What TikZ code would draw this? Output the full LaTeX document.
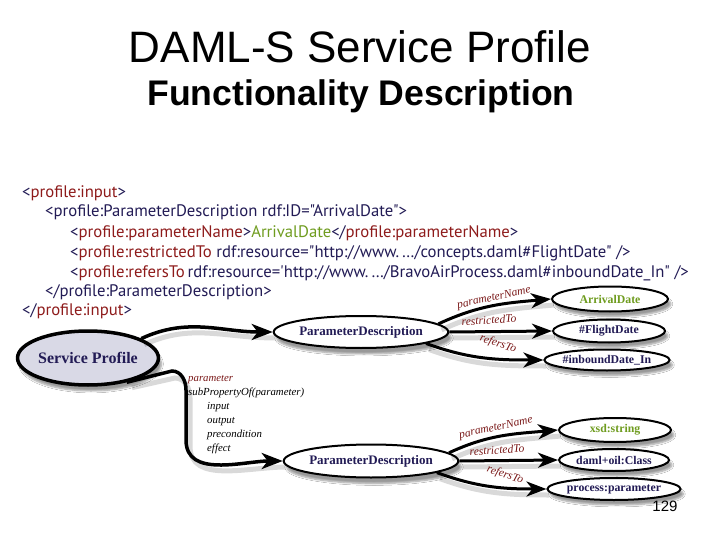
\documentclass[tikz,border=0pt]{standalone}
\usepackage{fontspec}
\setmainfont{Liberation Serif}
\setsansfont{Liberation Sans}
\newfontfamily\xmlfont{PT Sans}
\usetikzlibrary{arrows.meta,shapes.geometric,shadows.blur}
\definecolor{navy}{HTML}{221B55}
\definecolor{tagred}{HTML}{8E1B1B}
\definecolor{lblred}{HTML}{7A1818}
\definecolor{valgreen}{HTML}{6F9C1F}
\definecolor{spfill}{HTML}{D9D9E6}
\tikzset{
  xml/.style={anchor=base west, inner sep=0pt, font=\xmlfont\fontsize{16.7}{16.7}\selectfont, text=navy},
  spnode/.style={ellipse, draw=black, line width=3.5pt, fill=spfill, minimum width=120pt, minimum height=54pt, inner sep=0pt,
    font=\bfseries\fontsize{16}{16}\selectfont, text=navy, blur shadow={shadow xshift=3pt, shadow yshift=-6pt, shadow blur steps=6}},
  pdnode/.style={ellipse, draw=black, line width=2pt, fill=white, minimum width=142pt, minimum height=32pt, inner sep=0pt,
    font=\bfseries\fontsize{13}{13}\selectfont, text=navy, blur shadow={shadow xshift=3pt, shadow yshift=-6pt, shadow blur steps=6}},
  valnode/.style={ellipse, draw=black, line width=2pt, fill=white, minimum width=112pt, minimum height=23pt, inner sep=0pt,
    font=\bfseries\fontsize{11.8}{11.8}\selectfont, text=navy, blur shadow={shadow xshift=3pt, shadow yshift=-5pt, shadow blur steps=6}},
  bigarrow/.style={line width=3.5pt, -{Stealth[length=21pt,width=16pt,inset=6pt]}},
  smallarrow/.style={line width=3pt, -{Stealth[length=20pt,width=15pt,inset=6pt]}},
  shadowline/.style={line width=5pt, black, opacity=0.15},
  lbl/.style={font=\itshape\fontsize{11.5}{11.5}\selectfont, text=lblred, inner sep=0pt},
  sub/.style={anchor=base west, inner sep=0pt, font=\itshape\fontsize{10.8}{10.8}\selectfont, text=black}
}
\begin{document}
\begin{tikzpicture}[x=1pt,y=-1pt]
\useasboundingbox[fill=white] (0,0) rectangle (720,540);

% titles
\node (title) at (360,47) {\sffamily\fontsize{44}{44}\selectfont DAML-S Service Profile};
\node (subtitle) at (361,96) {\sffamily\bfseries\fontsize{35.6}{35.6}\selectfont Functionality Description};

% XML code
\node[xml] (x1) at (22,197) {<\textcolor{tagred}{profile:input}>};
\node[xml] (x2) at (45,217) {<profile:ParameterDescription rdf:ID="ArrivalDate">};
\node[xml] (x3) at (70,237) {<\textcolor{tagred}{profile:parameterName}>\textcolor{valgreen}{ArrivalDate}</\textcolor{tagred}{profile:parameterName}>};
\node[xml] (x4) at (70,257) {<\textcolor{tagred}{profile:restrictedTo} rdf:resource="http://www.\,…/concepts.daml\#FlightDate" />};
\node[xml] (x5) at (70,277) {<\textcolor{tagred}{profile:refersTo}\,rdf:resource='http://www.\,…/BravoAirProcess.daml\#inboundDate\_In" />};
\node[xml] (x6) at (45,296) {</profile:ParameterDescription>};
\node[xml] (x7) at (22,315) {</\textcolor{tagred}{profile:input}>};

% nodes
\node[spnode] (sp) at (88,358) {Service Profile};
\node[pdnode] (pd1) at (361,332) {ParameterDescription};
\node[pdnode, minimum width=144pt, minimum height=33pt] (pd2) at (371,461) {ParameterDescription};

\node[valnode, minimum width=116pt, minimum height=25pt] (ad) at (610,299) {\textcolor{valgreen}{ArrivalDate}};
\node[valnode] (fd) at (609,331) {\#FlightDate};
\node[valnode, minimum width=110pt, minimum height=21pt] (ib) at (607,360) {\#inboundDate\_In};

\node[valnode, minimum width=112pt, minimum height=24pt] (xs) at (615,430) {\textcolor{valgreen}{xsd:string}};
\node[valnode, minimum width=110pt, minimum height=22pt] (dc) at (614,460) {daml+oil:Class};
\node[valnode, minimum width=110pt, minimum height=22pt] (pp) at (614,489) {process:parameter};

% arrow shadows
\draw[shadowline] ([shift={(3,6)}]sp.20) to[out=25,in=180] ([shift={(3,6)}]pd1.west);
\draw[shadowline] ([shift={(3,6)}]sp.-30) -- ([shift={(3,6)}]172,372) to[out=0,in=90] ([shift={(3,6)}]187,392) -- ([shift={(3,6)}]187,440) to[out=-90,in=180] ([shift={(3,6)}]pd2.west);
\draw[shadowline] ([shift={(3,6)}]pd1.6) to[out=25,in=185] ([shift={(3,6)}]ad.west);
\draw[shadowline] ([shift={(3,6)}]pd1.east) -- ([shift={(3,6)}]fd.west);
\draw[shadowline] ([shift={(3,6)}]pd1.-10) to[out=-20,in=180] ([shift={(3,6)}]ib.west);
\draw[shadowline] ([shift={(3,6)}]pd2.6) to[out=25,in=185] ([shift={(3,6)}]xs.west);
\draw[shadowline] ([shift={(3,6)}]pd2.east) -- ([shift={(3,6)}]dc.west);
\draw[shadowline] ([shift={(3,6)}]pd2.-10) to[out=-20,in=180] ([shift={(3,6)}]pp.west);

% main arrows
\draw[bigarrow] (sp.20) to[out=25,in=180] (pd1.west);
\draw[bigarrow] (sp.-32) -- (172,371) to[out=0,in=90] (186,390) -- (186,440) to[out=-90,in=180] (pd2.west);

\draw[smallarrow] (pd1.6) to[out=25,in=185] (ad.west);
\draw[smallarrow] (pd1.east) -- (fd.west);
\draw[smallarrow] (pd1.-10) to[out=-20,in=180] (ib.west);

\draw[smallarrow] (pd2.6) to[out=25,in=185] (xs.west);
\draw[smallarrow] (pd2.east) -- (dc.west);
\draw[smallarrow] (pd2.-10) to[out=-20,in=180] (pp.west);

% edge labels
\node[lbl, rotate=12] (l1) at (494,298) {parameterName};
\node[lbl, rotate=4] (l2) at (489,320) {restrictedTo};
\node[lbl, rotate=-18] (l3) at (498,344) {refersTo};

\node[lbl, rotate=12] (l4) at (496,428) {parameterName};
\node[lbl, rotate=4] (l5) at (497,450) {restrictedTo};
\node[lbl, rotate=-18] (l6) at (505,475) {refersTo};

% sub-property list
\node[sub, text=lblred] (s1) at (188,381) {parameter};
\node[sub] (s2) at (188,395) {subPropertyOf(parameter)};
\node[sub] (s3) at (207,409) {input};
\node[sub] (s4) at (207,423) {output};
\node[sub] (s5) at (207,437) {precondition};
\node[sub] (s6) at (207,451) {effect};

% page number
\node[anchor=base, inner sep=0pt] (pg) at (665,511) {\sffamily\fontsize{15}{15}\selectfont 129};
\end{tikzpicture}
\end{document}
